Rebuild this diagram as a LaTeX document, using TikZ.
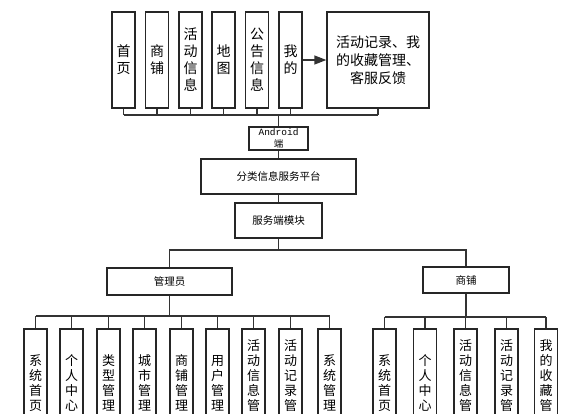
\documentclass[tikz,border=0pt]{standalone}
\usepackage{fontspec}
\setmainfont{Noto Sans CJK SC}
\newfontfamily\monofont{Liberation Mono}
\usetikzlibrary{arrows.meta}

\tikzset{
  box/.style  = {draw=black!85, line width=1.3pt, fill=white, inner sep=0pt, align=center},
  topbox/.style = {box, minimum width=23pt, minimum height=96pt, font=\fontsize{14}{17}\selectfont},
  subbox/.style = {box, minimum width=23pt, minimum height=108pt, font=\fontsize{13}{15}\selectfont},
  midbox/.style = {box, font=\fontsize{10.5}{12}\selectfont},
  conn/.style = {draw=black!80, line width=1.3pt}
}

\begin{document}
\begin{tikzpicture}[x=1pt, y=-1pt]
        \useasboundingbox (0,0) rectangle (577,413);
        \clip (0,0) rectangle (577,413);

        % android pages
        \node[topbox] (shouye)  at (123.5,60) {首\\页};
        \node[topbox] (shangpu) at (157,60)   {商\\铺};
        \node[topbox] (huodong) at (190.5,60) {活\\动\\信\\息};
        \node[topbox] (ditu)    at (223.5,60) {地\\图};
        \node[topbox] (gonggao) at (257,60)   {公\\告\\信\\息};
        \node[topbox] (wode)    at (290.5,60) {我\\的};
        \node[box, minimum width=102pt, minimum height=96pt, font=\fontsize{14}{18}\selectfont] (kefu) at (378,60) {活动记录、我\\的收藏管理、\\客服反馈};

        \draw[conn, -{Triangle[length=12pt, width=9pt]}] (wode.east) -- (kefu.west);

        \coordinate (topbus) at (0,115);

        % middle column
        \node[box, minimum width=59pt, minimum height=23pt, font=\fontsize{9.5}{12}\selectfont] (android) at (278.5,138.5) {{\monofont Android}\\端};
        \node[midbox, minimum width=155pt, minimum height=35pt] (pingtai) at (278.5,176.5) {分类信息服务平台};
        \node[midbox, minimum width=87pt, minimum height=35pt] (fuwu) at (278.5,220.5) {服务端模块};

        \coordinate (midbus) at (0,250);

        \node[midbox, minimum width=125pt, minimum height=27pt] (admin) at (169.5,281.5) {管理员};
        \node[midbox, minimum width=86pt, minimum height=26pt] (shop) at (466,280) {商铺};

        \coordinate (adminbus) at (0,316);
        \coordinate (shopbus) at (0,317);

        % admin modules
        \node[subbox] (a1) at (35.5,383)  {系\\统\\首\\页};
        \node[subbox] (a2) at (71.5,383)  {个\\人\\中\\心};
        \node[subbox] (a3) at (108.5,383) {类\\型\\管\\理};
        \node[subbox] (a4) at (144.5,383) {城\\市\\管\\理};
        \node[subbox] (a5) at (181.5,383) {商\\铺\\管\\理};
        \node[subbox] (a6) at (217.5,383) {用\\户\\管\\理};
        \node[subbox] (a7) at (253.5,383) {活\\动\\信\\息\\管\\理};
        \node[subbox] (a8) at (290.5,383) {活\\动\\记\\录\\管\\理};
        \node[subbox] (a9) at (329.5,383) {系\\统\\管\\理};

        % shop modules
        \node[subbox] (s1) at (384.5,383) {系\\统\\首\\页};
        \node[subbox] (s2) at (425,383)   {个\\人\\中\\心};
        \node[subbox] (s3) at (465.5,383) {活\\动\\信\\息\\管\\理};
        \node[subbox] (s4) at (506.5,383) {活\\动\\记\\录\\管\\理};
        \node[subbox] (s5) at (546,383)   {我\\的\\收\\藏\\管\\理};

        % top bus
        \draw[conn] (shouye.south) -- (shouye.south |- topbus);
        \draw[conn] (shangpu.south) -- (shangpu.south |- topbus);
        \draw[conn] (huodong.south) -- (huodong.south |- topbus);
        \draw[conn] (ditu.south) -- (ditu.south |- topbus);
        \draw[conn] (gonggao.south) -- (gonggao.south |- topbus);
        \draw[conn] (wode.south) -- (wode.south |- topbus);
        \draw[conn] (kefu.south) -- (kefu.south |- topbus);
        \draw[conn] (shouye.south |- topbus) -- (kefu.south |- topbus);
        \draw[conn] (android.north |- topbus) -- (android.north);

        \draw[conn] (android.south) -- (pingtai.north);
        \draw[conn] (pingtai.south) -- (fuwu.north);
        \draw[conn] (fuwu.south) -- (fuwu.south |- midbus);
        \draw[conn] (admin.north) -- (admin.north |- midbus) -- (shop.north |- midbus) -- (shop.north);

        % admin bus
        \draw[conn] (admin.south) -- (admin.south |- adminbus);
        \draw[conn] (a1.north |- adminbus) -- (a9.north |- adminbus);
        \draw[conn] (a1.north |- adminbus) -- (a1.north);
        \draw[conn] (a2.north |- adminbus) -- (a2.north);
        \draw[conn] (a3.north |- adminbus) -- (a3.north);
        \draw[conn] (a4.north |- adminbus) -- (a4.north);
        \draw[conn] (a5.north |- adminbus) -- (a5.north);
        \draw[conn] (a6.north |- adminbus) -- (a6.north);
        \draw[conn] (a7.north |- adminbus) -- (a7.north);
        \draw[conn] (a8.north |- adminbus) -- (a8.north);
        \draw[conn] (a9.north |- adminbus) -- (a9.north);

        % shop bus
        \draw[conn] (shop.south) -- (shop.south |- shopbus);
        \draw[conn] (s1.north |- shopbus) -- (s5.north |- shopbus);
        \draw[conn] (s1.north |- shopbus) -- (s1.north);
        \draw[conn] (s2.north |- shopbus) -- (s2.north);
        \draw[conn] (s3.north |- shopbus) -- (s3.north);
        \draw[conn] (s4.north |- shopbus) -- (s4.north);
        \draw[conn] (s5.north |- shopbus) -- (s5.north);
    \end{tikzpicture}
\end{document}
